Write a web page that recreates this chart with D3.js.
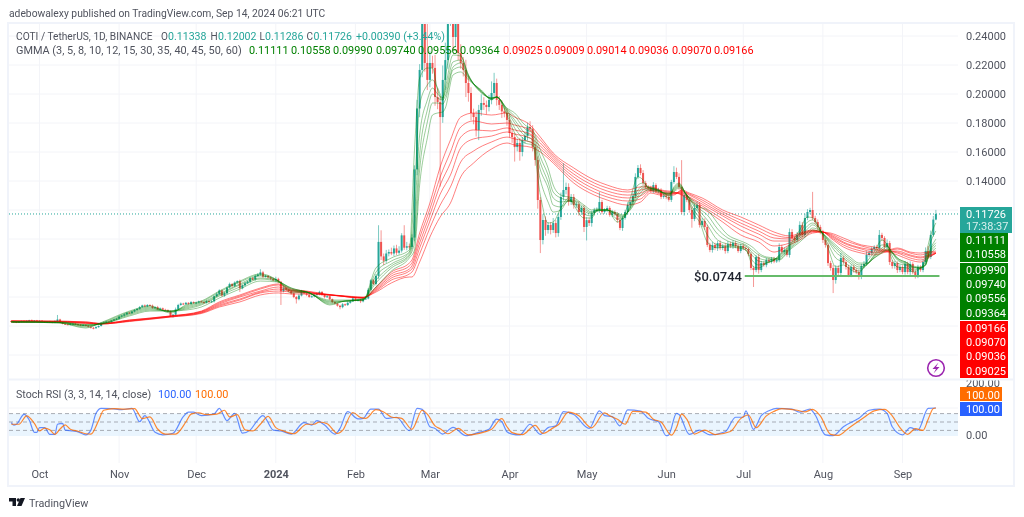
<!DOCTYPE html>
<html><head><meta charset="utf-8">
<script src="https://cdn.jsdelivr.net/npm/d3@7"></script>
<style>html,body{margin:0;padding:0;background:#fff}svg{display:block;filter:blur(.35px)}text{font-family:Roboto,"Liberation Sans",sans-serif}</style>
</head><body><svg id="c" width="1024" height="517"></svg>
<script>
// ---------- DATA ----------
const firstDay = "2023-09-20";
const closes = [
.0432,.0428,.0425,.0430,.0434,.0430,.0436,.0440,.0434,.0438,.0436,
.0436,.0432,.0426,.0430,.0428,.0424,.0432,.0445,.0424,.0415,.0412,.0410,.0415,.0416,.0412,.0410,.0405,.0408,.0402,.0395,.0388,.0385,.0392,.0400,.0418,.0424,.0430,.0428,.0438,.0445,.0450,
.0465,.0472,.0480,.0492,.0488,.0500,.0510,.0518,.0530,.0542,.0535,.0545,.0540,.0525,.0530,.0515,.0522,.0512,.0510,.0500,.0470,.0478,.0515,.0545,.0555,.0550,.0560,.0552,.0565,.0558,
.0562,.0570,.0565,.0560,.0572,.0565,.0570,.0605,.0620,.0645,.0610,.0625,.0665,.0690,.0675,.0700,.0710,.0660,.0680,.0695,.0705,.0730,.0720,.0745,.0755,.0770,.0740,.0745,.0735,.0725,.0715,
.0725,.0705,.0640,.0660,.0650,.0640,.0625,.0600,.0585,.0610,.0640,.0625,.0615,.0600,.0605,.0615,.0620,.0635,.0615,.0600,.0605,.0585,.0565,.0555,.0540,.0530,.0550,.0545,.0560,.0570,.0590,
.0575,.0580,.0570,.0585,.0590,.0650,.0715,.0690,.0745,.0980,.0880,.0850,.0900,.0910,.0900,.0935,.0905,.0920,.1025,.0940,.0950,.0945,.1010,.1480,.1900,.2166,.2700,.2214,.2097,
.2214,.2180,.1979,.1945,.1841,.2097,.2234,.2550,.2700,.2393,.2520,.2283,.2214,.2166,.2076,.2007,.1869,.1841,.1752,.1890,.1938,.1925,.1910,.1959,.2007,.2076,.1960,.1925,.1880,.1869,.1821,
.1731,.1703,.1634,.1662,.1600,.1683,.1710,.1772,.1760,.1634,.1545,.1269,.0993,.1131,.1062,.1097,.1062,.1110,.1041,.1152,.1290,.1338,.1359,.1255,.1290,.1234,.1240,.1186,.1214,.1083,
.1130,.1110,.1179,.1200,.1200,.1255,.1186,.1200,.1214,.1166,.1186,.1172,.1131,.1076,.1145,.1186,.1234,.1255,.1297,.1428,.1490,.1455,.1386,.1359,.1352,.1331,.1372,.1331,.1338,.1290,.1297,
.1290,.1270,.1393,.1462,.1428,.1359,.1186,.1303,.1269,.1200,.1138,.1214,.1234,.1097,.1124,.1083,.0959,.0924,.0959,.0938,.0972,.0938,.0952,.0917,.0966,.0952,.0972,.0952,.0917,.0952,
.0938,.0931,.0897,.0800,.0786,.0876,.0786,.0834,.0820,.0855,.0845,.0862,.0845,.0855,.0945,.0910,.0924,.0890,.1048,.1007,.0993,.1028,.1097,.1028,.1145,.1186,.1200,.1145,.1117,.1083,.1048,
.0993,.0959,.0834,.0800,.0717,.0800,.0766,.0869,.0841,.0807,.0752,.0807,.0786,.0772,.0738,.0814,.0828,.0890,.0903,.0931,.0945,.0938,.1028,.1007,.0945,.0972,.0841,.0814,.0834,.0786,.0807,
.0772,.0828,.0772,.0828,.0772,.0745,.0807,.0786,.0841,.0917,.0876,.1028,.1134,.11726];
const firstOpen = .0434;
// wick lengths beyond the body, in 0.0001 price units
const upperWicks = [
4,3,5,4,3,6,4,3,5,3,4,
4,5,3,4,6,4,8,31,5,4,3,4,5,3,4,5,3,4,5,4,3,5,6,4,8,5,4,6,4,5,6,
6,5,8,4,6,5,7,6,8,5,7,6,5,8,4,9,6,5,7,5,8,6,12,8,7,5,6,4,7,5,
6,5,7,5,6,4,8,6,12,8,6,10,7,9,6,8,5,10,7,8,9,6,8,10,9,22,10,8,7,6,8,
15,8,6,9,7,6,8,5,7,12,9,7,6,8,6,7,9,8,6,5,9,6,5,7,5,6,8,5,10,8,9,
6,5,7,8,6,12,8,10,14,115,80,20,25,18,30,20,25,30,15,70,30,18,22,28,60,40,90,400,300,
80,50,90,60,40,100,120,300,400,300,200,120,60,40,70,50,40,30,40,35,60,40,30,35,80,70,30,25,30,25,30,
40,30,25,30,35,20,25,30,40,25,20,25,20,40,25,20,20,35,20,25,30,185,30,25,20,20,18,22,15,20,
20,18,15,15,18,70,15,12,15,12,15,12,12,15,15,15,20,18,25,25,20,25,20,15,12,15,20,12,15,12,12,
15,12,15,40,30,25,185,25,20,15,25,30,25,20,20,18,15,15,20,15,15,18,15,20,20,15,18,15,12,15,
15,12,10,12,15,15,20,15,12,15,12,14,15,12,25,15,18,15,25,20,15,20,25,20,30,20,15,125,15,18,15,
15,15,12,15,20,20,18,35,15,12,15,18,15,12,15,15,20,25,18,15,12,15,34,15,12,25,15,12,15,12,15,
12,20,15,18,12,15,15,12,18,25,35,30,25,28];
const lowerWicks = [
3,4,5,3,4,3,5,4,3,4,3,
3,4,5,4,3,5,4,8,5,4,3,4,5,4,3,4,5,4,4,5,6,8,5,4,4,5,4,3,5,4,4,
5,4,6,5,4,5,6,4,7,5,6,5,4,6,5,4,6,5,6,5,8,12,6,5,6,4,5,6,5,6,
5,6,4,7,5,6,5,8,5,6,7,9,6,5,7,6,8,25,7,6,5,8,6,7,6,8,9,6,7,8,6,
8,9,95,8,7,6,9,8,30,8,6,7,9,6,5,7,6,8,7,9,6,7,8,6,7,15,8,6,7,6,5,
5,6,12,7,5,6,8,7,10,20,25,30,15,20,12,18,15,12,14,15,18,12,15,25,40,60,50,60,70,
50,40,60,50,480,40,70,60,80,90,70,50,40,45,97,60,50,50,45,70,40,35,50,30,30,35,40,35,45,30,40,
30,40,100,30,60,30,25,30,25,30,40,60,90,30,40,25,30,20,30,25,20,25,30,25,20,25,20,25,20,35,
93,20,25,18,15,20,15,12,15,12,15,12,18,15,20,12,18,20,18,15,15,15,15,12,10,12,15,12,12,15,12,
15,12,15,12,15,20,15,25,15,18,60,15,20,18,15,20,15,15,18,15,20,15,15,18,15,15,20,15,12,15,
15,12,15,15,117,15,25,15,12,15,12,15,12,10,15,12,15,12,18,15,20,15,15,15,18,15,15,15,15,18,15,
20,18,20,18,90,25,20,18,15,18,15,15,18,15,18,15,15,12,15,12,15,12,15,18,15,15,20,18,18,20,15,
15,18,15,20,15,18,15,12,15,15,12,15,12,5];
// GMMA short group: [day number, EMA3, EMA5, EMA8, EMA10, EMA12, EMA15]
const gmmaFast = [
[0,.0428,.0428,.0428,.0428,.0428,.0428],[19,.0421,.0421,.0424,.0424,.0424,.0428],[29,.0386,.0393,.0400,.0403,.0407,.0410],[35,.0424,.0421,.0417,.0414,.0414,.0414],
[46,.0503,.0497,.0490,.0483,.0476,.0469],[54,.0538,.0531,.0524,.0517,.0510,.0503],[62,.0490,.0497,.0500,.0503,.0503,.0503],[68,.0545,.0538,.0531,.0524,.0517,.0510],
[74,.0572,.0566,.0559,.0552,.0545,.0531],[81,.0641,.0634,.0621,.0614,.0607,.0593],[89,.0710,.0703,.0690,.0683,.0669,.0655],[97,.0759,.0752,.0745,.0731,.0724,.0710],
[104,.0710,.0710,.0710,.0710,.0703,.0703],[109,.0628,.0641,.0648,.0655,.0662,.0662],[115,.0634,.0634,.0634,.0634,.0634,.0634],[124,.0545,.0552,.0559,.0566,.0572,.0579],
[130,.0572,.0572,.0572,.0572,.0572,.0579],[137,.0579,.0579,.0579,.0586,.0586,.0586],[142,.0800,.0772,.0745,.0717,.0697,.0669],[148,.0869,.0848,.0828,.0814,.0800,.0779],
[155,.0924,.0910,.0903,.0890,.0883,.0869],[157,.1614,.1338,.1166,.1062,.0979,.0924],[159,.2110,.1924,.1717,.1579,.1476,.1372],[162,.2179,.2062,.1959,.1890,.1807,.1697],
[164,.2179,.2097,.2041,.2000,.1938,.1855],[166,.2028,.2041,.2000,.1972,.1938,.1869],[168,.1959,.1972,.1972,.1959,.1931,.1876],[169,.2110,.2041,.2014,.1986,.1959,.1903],
[172,.2303,.2269,.2221,.2186,.2166,.2131],[175,.2269,.2262,.2234,.2214,.2186,.2152],[178,.2131,.2131,.2124,.2117,.2110,.2097],[183,.2007,.2014,.2014,.2021,.2021,.2028],
[187,.1972,.1972,.1972,.1966,.1966,.1959],[189,.1979,.1979,.1979,.1979,.1979,.1979],[193,.1855,.1869,.1883,.1890,.1897,.1903],[196,.1731,.1766,.1800,.1821,.1848,.1869],
[200,.1662,.1683,.1710,.1731,.1759,.1786],[203,.1648,.1662,.1683,.1703,.1731,.1752],[206,.1303,.1407,.1476,.1524,.1566,.1614],[209,.1110,.1255,.1352,.1393,.1441,.1490],
[211,.1117,.1186,.1234,.1283,.1324,.1372],[214,.1214,.1200,.1221,.1255,.1283,.1303],[217,.1283,.1269,.1262,.1262,.1269,.1290],[219,.1234,.1248,.1255,.1262,.1269,.1283],
[223,.1145,.1172,.1193,.1207,.1221,.1234],[226,.1145,.1159,.1172,.1179,.1186,.1200],[228,.1200,.1193,.1193,.1200,.1200,.1207],[232,.1200,.1200,.1200,.1200,.1200,.1200],
[236,.1117,.1138,.1159,.1166,.1172,.1179],[238,.1145,.1138,.1145,.1152,.1159,.1166],[241,.1283,.1234,.1221,.1214,.1207,.1200],[244,.1428,.1372,.1338,.1317,.1297,.1283],
[246,.1407,.1386,.1366,.1352,.1338,.1317],[248,.1352,.1359,.1359,.1352,.1345,.1338],[252,.1338,.1338,.1338,.1331,.1331,.1324],[256,.1283,.1297,.1303,.1310,.1310,.1317],
[258,.1359,.1352,.1345,.1338,.1331,.1324],[260,.1386,.1379,.1372,.1366,.1359,.1352],[263,.1290,.1297,.1303,.1303,.1303,.1303],[266,.1166,.1193,.1221,.1234,.1241,.1255],
[268,.1117,.1145,.1172,.1193,.1207,.1221],[271,.0979,.1028,.1097,.1131,.1166,.1200],[275,.0938,.0959,.0993,.1034,.1069,.1110],[279,.0945,.0952,.0966,.0986,.1007,.1028],
[283,.0938,.0945,.0952,.0966,.0979,.0993],[286,.0924,.0924,.0938,.0952,.0959,.0972],[289,.0807,.0841,.0876,.0897,.0917,.0938],[291,.0800,.0821,.0848,.0869,.0890,.0903],
[294,.0834,.0834,.0841,.0855,.0869,.0876],[297,.0855,.0855,.0855,.0862,.0862,.0869],[299,.0890,.0883,.0876,.0869,.0862,.0855],[303,.0959,.0952,.0945,.0938,.0931,.0924],
[307,.1062,.1041,.1021,.1007,.0993,.0979],[310,.1152,.1117,.1090,.1069,.1048,.1028],[312,.1145,.1131,.1110,.1097,.1076,.1062],[315,.1062,.1062,.1062,.1055,.1055,.1048],
[318,.0938,.0966,.0986,.0993,.1000,.1007],[321,.0807,.0869,.0910,.0931,.0945,.0959],[324,.0821,.0841,.0869,.0883,.0897,.0910],[327,.0786,.0807,.0828,.0841,.0855,.0869],
[330,.0766,.0779,.0793,.0807,.0821,.0834],[333,.0841,.0821,.0821,.0821,.0828,.0834],[336,.0910,.0890,.0883,.0876,.0869,.0869],[339,.0993,.0959,.0938,.0924,.0910,.0903],
[341,.0959,.0959,.0952,.0945,.0931,.0924],[343,.0855,.0883,.0903,.0910,.0910,.0903],[345,.0807,.0834,.0855,.0862,.0869,.0869],[349,.0800,.0814,.0821,.0828,.0834,.0834],
[351,.0772,.0786,.0800,.0807,.0807,.0814],[354,.0800,.0800,.0800,.0800,.0800,.0807],[356,.0869,.0848,.0828,.0821,.0821,.0821],[357,.0959,.0924,.0890,.0883,.0876,.0869],
[360,.11111,.10558,.09990,.09740,.09556,.09364]];
// GMMA long group: [day number, EMA30, EMA35, EMA40, EMA45, EMA50, EMA60]
const gmmaSlow = [
[0,.0438,.0434,.0434,.0431,.0428,.0428],[15,.0434,.0434,.0431,.0431,.0428,.0428],[29,.0428,.0428,.0424,.0421,.0421,.0417],[35,.0417,.0417,.0417,.0414,.0414,.0414],
[46,.0441,.0441,.0438,.0434,.0434,.0431],[62,.0469,.0469,.0466,.0466,.0462,.0462],[74,.0503,.0500,.0497,.0493,.0490,.0486],[81,.0566,.0559,.0552,.0545,.0538,.0531],
[89,.0614,.0607,.0600,.0586,.0579,.0566],[97,.0662,.0655,.0641,.0634,.0628,.0614],[104,.0690,.0683,.0669,.0655,.0641,.0628],[109,.0655,.0648,.0645,.0641,.0634,.0621],
[115,.0641,.0638,.0634,.0631,.0628,.0621],[120,.0628,.0624,.0621,.0621,.0621,.0617],[128,.0607,.0607,.0607,.0607,.0610,.0610],[137,.0593,.0593,.0593,.0596,.0596,.0600],
[142,.0669,.0662,.0655,.0648,.0641,.0634],[148,.0772,.0759,.0745,.0731,.0717,.0697],[155,.0834,.0814,.0793,.0779,.0759,.0738],[156,.0855,.0834,.0814,.0793,.0772,.0738],
[159,.1041,.1007,.0972,.0938,.0897,.0841],[163,.1248,.1207,.1166,.1124,.1076,.1014],[167,.1497,.1428,.1372,.1310,.1234,.1152],[171,.1683,.1600,.1524,.1441,.1359,.1248],
[175,.1841,.1772,.1703,.1628,.1531,.1428],[180,.1869,.1814,.1752,.1690,.1607,.1524],[187,.1855,.1793,.1745,.1710,.1669,.1621],[193,.1869,.1800,.1766,.1738,.1703,.1662],
[196,.1841,.1786,.1752,.1724,.1690,.1648],[202,.1786,.1752,.1724,.1697,.1669,.1634],[206,.1703,.1683,.1662,.1641,.1621,.1600],[211,.1593,.1579,.1566,.1552,.1538,.1524],
[219,.1490,.1469,.1448,.1428,.1407,.1386],[227,.1407,.1386,.1366,.1345,.1324,.1303],[232,.1372,.1352,.1331,.1310,.1290,.1269],[240,.1338,.1324,.1303,.1283,.1262,.1234],
[245,.1359,.1338,.1317,.1297,.1276,.1255],[249,.1359,.1352,.1345,.1338,.1331,.1317],[253,.1338,.1331,.1324,.1317,.1310,.1303],[258,.1324,.1321,.1317,.1314,.1310,.1303],
[261,.1303,.1310,.1317,.1324,.1331,.1338],[264,.1269,.1283,.1290,.1303,.1310,.1317],[269,.1214,.1228,.1241,.1255,.1269,.1283],[277,.1117,.1138,.1159,.1172,.1186,.1200],
[284,.1028,.1062,.1090,.1110,.1131,.1152],[291,.0979,.1007,.1034,.1055,.1076,.1097],[297,.0910,.0952,.0986,.1007,.1028,.1048],[303,.0959,.0972,.0986,.1000,.1010,.1021],
[307,.0993,.1007,.1021,.1028,.1034,.1041],[312,.1041,.1048,.1052,.1055,.1059,.1062],[316,.1048,.1048,.1048,.1048,.1048,.1048],[319,.1007,.1014,.1021,.1028,.1034,.1041],
[324,.0945,.0959,.0972,.0979,.0993,.1007],[331,.0903,.0917,.0931,.0938,.0952,.0959],[336,.0890,.0903,.0910,.0924,.0931,.0945],[341,.0910,.0914,.0917,.0917,.0921,.0924],
[345,.0890,.0903,.0910,.0917,.0931,.0938],[350,.0855,.0869,.0883,.0890,.0903,.0910],[354,.0841,.0855,.0869,.0876,.0890,.0903],[357,.0869,.0876,.0883,.0890,.0903,.0910],
[360,.09025,.09009,.09014,.09036,.09070,.09166]];
// Stoch RSI: [day number, value]
const stochK = [[0,48],[1,39],[2,42],[5,77],[7,57],[9,13],[10,13],[11,30],[13,30],[15,6],[17,6],[18,42],[20,45],[21,21],[24,18],[26,15],[29,4],[31,21],[33,81],[35,99],[39,98],[43,94],[47,99],[50,51],[52,73],[56,13],[59,4],[63,10],[67,69],[69,85],[71,85],[74,73],[79,79],[81,99],[84,55],[87,81],[90,10],[93,21],[95,45],[98,73],[102,21],[105,18],[109,7],[114,48],[117,39],[119,55],[122,39],[126,7],[128,27],[131,87],[135,61],[137,63],[140,96],[143,96],[146,63],[150,67],[155,19],[158,99],[160,95],[163,33],[165,27],[168,7],[172,31],[177,1],[182,13],[186,24],[189,60],[191,51],[193,15],[195,7],[198,4],[202,42],[206,6],[209,30],[212,36],[215,87],[219,77],[225,27],[229,90],[231,73],[234,69],[237,36],[240,93],[245,89],[248,63],[252,51],[255,1],[256,4],[259,81],[260,77],[264,6],[268,21],[272,4],[278,15],[282,67],[285,67],[286,90],[289,24],[292,73],[295,90],[298,99],[304,96],[307,85],[311,96],[313,75],[317,4],[320,1],[324,33],[330,63],[334,92],[338,96],[341,81],[343,33],[347,4],[350,30],[353,21],[357,99],[360,100]];
const stochD = [[0,42],[3,42],[6,72],[9,45],[11,18],[13,28],[15,22],[17,6],[19,25],[21,40],[23,24],[26,17],[29,8],[31,7],[34,55],[36,92],[40,98],[44,96],[48,98],[51,62],[54,68],[57,25],[60,7],[64,7],[68,50],[70,78],[73,83],[76,76],[80,78],[83,92],[85,68],[88,76],[91,22],[94,18],[97,42],[100,70],[103,30],[106,18],[110,8],[115,42],[118,42],[120,50],[123,44],[127,9],[129,20],[133,84],[136,66],[138,63],[142,94],[145,86],[148,68],[152,63],[156,24],[160,92],[162,78],[165,36],[167,26],[170,8],[174,27],[178,4],[184,14],[187,24],[191,62],[193,33],[195,12],[199,5],[204,38],[207,9],[211,29],[213,40],[217,85],[221,72],[226,29],[231,83],[233,72],[236,60],[239,42],[242,88],[247,85],[250,60],[253,50],[257,3],[259,30],[261,78],[263,60],[266,7],[270,21],[274,5],[280,16],[284,62],[287,75],[290,30],[294,72],[297,88],[300,98],[306,92],[309,86],[312,95],[315,72],[319,6],[322,2],[326,28],[332,66],[336,90],[340,95],[343,72],[346,30],[349,6],[352,26],[355,20],[357,60],[359,98],[360,100]];
const gridPrices = [.24,.22,.20,.18,.16,.14,.12,.10,.08,.06,.04,.02];
const priceTicks = [.24,.22,.20,.18,.16,.14];
const stochTicks = [200,0];
const monthTicks = ["2023-10-01","2023-11-01","2023-12-01","2024-01-01","2024-02-01","2024-03-01","2024-04-01","2024-05-01","2024-06-01","2024-07-01","2024-08-01","2024-09-01"];
const monthNames = ["Oct","Nov","Dec","2024","Feb","Mar","Apr","May","Jun","Jul","Aug","Sep"];
const supportPrice = .0744, supportFrom = "2024-07-01", supportTo = "2024-09-15";
const lastPrice = .11726;
const fastLabels = ["0.11111","0.10558","0.09990","0.09740","0.09556","0.09364"];
const slowLabels = ["0.09025","0.09009","0.09014","0.09036","0.09070","0.09166"];

// ---------- SCALES ----------
const TEAL="#26a69a",RED="#ef5350",GREY="#50535e",FRAME="#f0f3fa",GRID="#f3f4f8";
const svg=d3.select("#c");
const utc=d3.utcParse("%Y-%m-%d");
const x=d3.scaleUtc().domain([utc("2023-10-01"),utc("2024-09-01")]).range([39.5,902.5]);
const y=d3.scaleLinear().domain([.12,.24]).range([210,36]);
const yS=d3.scaleLinear().domain([0,200]).range([436,380]);
const start=utc(firstDay);
const dayX=i=>x(d3.utcDay.offset(start,i));
const L=9,R=958,T=24,B=378,T2=381,B2=463;
const defs=svg.append("defs");
defs.append("clipPath").attr("id","m").append("rect").attr("x",L).attr("y",T).attr("width",R-L).attr("height",B-T);
defs.append("clipPath").attr("id","s").append("rect").attr("x",L).attr("y",T2).attr("width",R-L).attr("height",B2-T2);

// ---------- GRID ----------
const grid=svg.append("g").attr("stroke",GRID).attr("stroke-width",1);
grid.selectAll(".v").data(monthTicks).join("line").attr("x1",d=>x(utc(d))).attr("x2",d=>x(utc(d))).attr("y1",T).attr("y2",B2);
grid.selectAll(".h").data(gridPrices).join("line").attr("x1",L).attr("x2",R).attr("y1",d=>y(d)).attr("y2",d=>y(d));
grid.append("line").attr("x1",L).attr("x2",R).attr("y1",yS(100)).attr("y2",yS(100));

// ---------- CANDLES ----------
const candles=closes.map((c,i)=>{const o=i?closes[i-1]:firstOpen;return{i,o,c,h:Math.max(o,c)+upperWicks[i]/1e4,l:Math.min(o,c)-lowerWicks[i]/1e4};});
const main=svg.append("g").attr("clip-path","url(#m)");
main.append("line").attr("x1",L).attr("x2",R).attr("y1",y(lastPrice)).attr("y2",y(lastPrice)).attr("stroke",TEAL).attr("stroke-dasharray","1 2").attr("stroke-width",1);
const col=d=>d.c>=d.o?TEAL:RED;
main.selectAll(".w").data(candles).join("line").attr("x1",d=>dayX(d.i)).attr("x2",d=>dayX(d.i)).attr("y1",d=>y(d.h)).attr("y2",d=>y(d.l)).attr("stroke",col).attr("stroke-opacity",.6).attr("stroke-width",1);
main.selectAll(".b").data(candles).join("rect").attr("x",d=>dayX(d.i)-1).attr("width",2).attr("y",d=>y(Math.max(d.o,d.c))).attr("height",d=>Math.max(1,Math.abs(y(d.o)-y(d.c)))).attr("fill",col);

// ---------- GMMA ----------
const drawGroup=(rows,color,op)=>{
  const n=rows[0].length-1;
  for(let k=1;k<=n;k++){
    const ln=d3.line().x(r=>dayX(r[0])).y(r=>y(r[k])).curve(d3.curveMonotoneX);
    main.append("path").attr("d",ln(rows)).attr("fill","none").attr("stroke",color).attr("stroke-opacity",op).attr("stroke-width",1);
  }
};
drawGroup(gmmaSlow,"#ff0000",.5);
drawGroup(gmmaFast,"#008000",.4);

// support line
main.append("line").attr("x1",x(utc(supportFrom))+1.5).attr("x2",x(utc(supportTo))+1).attr("y1",y(supportPrice)).attr("y2",y(supportPrice)).attr("stroke","#66bb6a").attr("stroke-width",2);
svg.append("text").attr("x",694).attr("y",y(supportPrice)+4.5).attr("font-size",13).attr("font-weight",500).attr("fill","#1e222d").text("$0.0744");

// ---------- STOCH RSI ----------
const st=svg.append("g").attr("clip-path","url(#s)");
st.append("rect").attr("x",L).attr("width",R-L).attr("y",yS(80)).attr("height",yS(0)-yS(80)).attr("fill","#e3f2fd").attr("fill-opacity",.75);
[80,50,20].forEach(v=>st.append("line").attr("x1",L).attr("x2",R).attr("y1",yS(v)).attr("y2",yS(v)).attr("stroke","#9598a1").attr("stroke-opacity",.8).attr("stroke-dasharray","4 3").attr("stroke-width",1));
const sl=d3.line().x(d=>dayX(d[0])).y(d=>yS(d[1])).curve(d3.curveMonotoneX);
st.append("path").attr("d",sl(stochK)).attr("fill","none").attr("stroke","#2962ff").attr("stroke-opacity",.7).attr("stroke-width",1.2);
st.append("path").attr("d",sl(stochD)).attr("fill","none").attr("stroke","#ff6d00").attr("stroke-opacity",.8).attr("stroke-width",1.2);

// ---------- AXES ----------
const styleAxis=g=>{g.select(".domain").remove();g.selectAll(".tick line").remove();g.selectAll("text").attr("fill",GREY).attr("font-size",11).attr("font-family","Roboto");};
svg.append("g").attr("transform","translate(966,0)").call(d3.axisRight(y).tickValues(priceTicks).tickSize(0).tickPadding(0).tickFormat(d3.format(".5f"))).call(styleAxis);
svg.append("g").attr("transform","translate(966,0)").call(d3.axisRight(yS).tickValues(stochTicks).tickSize(0).tickPadding(0).tickFormat(d3.format(".2f"))).call(styleAxis)
  .selectAll("text").attr("dy",d=>d===200?"0.62em":"0.25em");
svg.append("g").attr("transform","translate(0,467)").call(d3.axisBottom(x).tickValues(monthTicks.map(utc)).tickSize(0).tickPadding(3).tickFormat((d,i)=>monthNames[i])).call(styleAxis)
  .selectAll("text").attr("font-size",11).attr("font-weight",(d,i)=>monthNames[i]==="2024"?700:400);

// ---------- FRAME ----------
svg.append("rect").attr("x",8).attr("y",23).attr("width",1006).attr("height",463).attr("fill","none").attr("stroke",FRAME).attr("stroke-width",2);
svg.append("line").attr("x1",8).attr("x2",1014).attr("y1",379.5).attr("y2",379.5).attr("stroke",FRAME).attr("stroke-width",2);

// ---------- PRICE TAGS ----------
const tag=(x0,y0,w,h,fill,lines)=>{
  svg.append("rect").attr("x",x0).attr("y",y0).attr("width",w).attr("height",h).attr("fill",fill);
  lines.forEach(([t,yy,c])=>svg.append("text").attr("x",966).attr("y",yy+4).attr("font-size",11).attr("fill",c||"#fff").text(t));
};
tag(960,207,52,26,TEAL,[["0.11726",214],["17:38:37",226,"#d7f0ed"]]);
tag(960,233,48,29,"#008000",[[fastLabels[0],240],[fastLabels[1],254]]);
tag(960,263,48,57,"#008000",[[fastLabels[2],270],[fastLabels[3],284],[fastLabels[4],298],[fastLabels[5],313]]);
tag(960,321,48,57,"#ff0000",[[slowLabels[5],328],[slowLabels[4],342],[slowLabels[3],356],[slowLabels[0],371]]);
tag(960,387,42,14,"#ff6d00",[["100.00",394.5]]);
tag(960,402,42,14,"#2962ff",[["100.00",408.5]]);

// ---------- LEGENDS ----------
const put=(xx,yy,t,c,fs)=>svg.append("text").attr("x",xx).attr("y",yy).attr("font-size",fs||10.9).attr("fill",c).text(t);
put(9,17,"adebowalexy published on TradingView.com, Sep 14, 2024 06:21 UTC",GREY,10.3);
put(16,40,"COTI / TetherUS, 1D, BINANCE",GREY,10.2);
[["O",161,"0.11338",168],["H",210.5,"0.12002",218],["L",259.5,"0.11286",265],["C",306.5,"0.11726",313.5]].forEach(([a,ax,b,bx])=>{put(ax,40,a,GREY,10);put(bx,40,b,TEAL,10.6);});
put(356,40,"+0.00390 (+3.44%)",TEAL,10.6);
put(16,54,"GMMA (3, 5, 8, 10, 12, 15, 30, 35, 40, 45, 50, 60)",GREY);
fastLabels.forEach((t,i)=>put([249,291,333,376,418,460][i],54,t,"#008000"));
slowLabels.forEach((t,i)=>put([503,545,587,629,672,714][i],54,t,"#ff0000"));
put(16,398,"Stoch RSI (3, 3, 14, 14, close)",GREY,10.6);
put(158,398,"100.00","#2962ff");
put(195,398,"100.00","#ff6d00");

// bolt icon
svg.append("circle").attr("cx",936).attr("cy",368).attr("r",8.3).attr("fill","#fff").attr("stroke","#9c27b0").attr("stroke-width",1.6);
svg.append("path").attr("d","M938.5 362.5L932.5 369H936L933.5 373.5L939.5 367H936Z").attr("fill","#9c27b0");

// logo
svg.append("path").attr("d","M9 498H16V506H12.5V501.5H9Z").attr("fill","#131722");
svg.append("circle").attr("cx",18.3).attr("cy",500).attr("r",1.7).attr("fill","#131722");
svg.append("path").attr("d","M17 506L20.5 498H25L21.5 506Z").attr("fill","#131722");
svg.append("text").attr("x",29).attr("y",507).attr("font-size",10.8).attr("fill",GREY).text("TradingView");
</script></body></html>
